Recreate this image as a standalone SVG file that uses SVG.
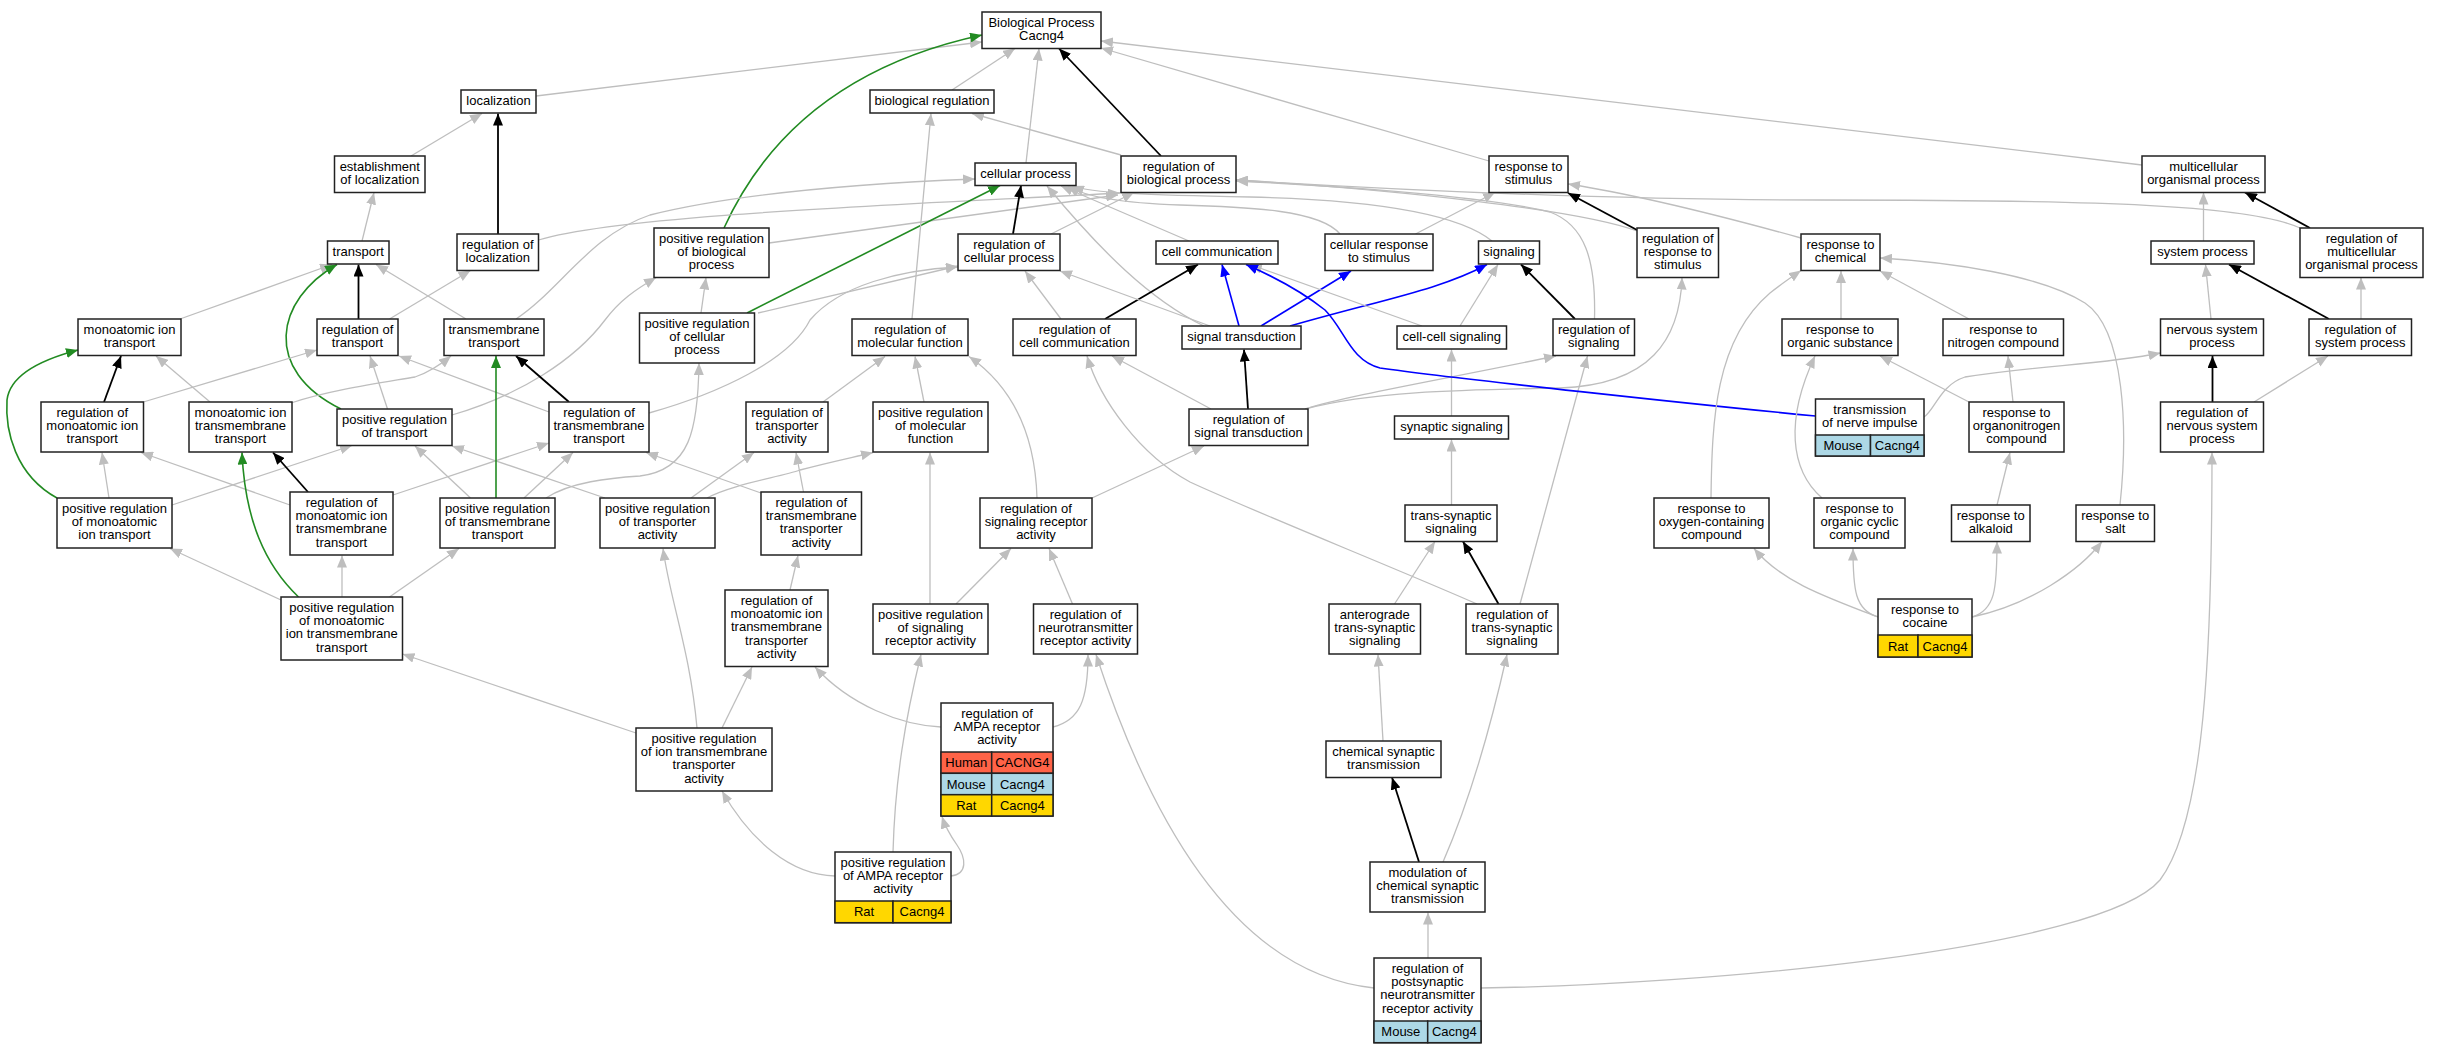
<svg xmlns="http://www.w3.org/2000/svg" width="2439" height="1053" viewBox="0 0 2439 1053">
<style>
.n rect{fill:#fff;stroke:#222;stroke-width:1.5}
.n text,.c text{font-family:"Liberation Sans",Arial,sans-serif;font-size:13px;text-anchor:middle;fill:#000}
.hu{fill:#ff6347!important}
.mo{fill:#add8e6!important}
.ra{fill:#ffd700!important}
.e path{fill:none}
.g{stroke:#bebebe;stroke-width:1.3}
.k{stroke:#000;stroke-width:1.8}
.gr{stroke:#228b22;stroke-width:1.6}
.b{stroke:#0000ff;stroke-width:1.6}
.g{marker-end:url(#ag)}
.k{marker-end:url(#ak)}
.gr{marker-end:url(#agr)}
.b{marker-end:url(#ab)}
</style>
<defs>
<marker id="ag" viewBox="0 0 12 10" refX="12" refY="5" markerWidth="12" markerHeight="10" markerUnits="userSpaceOnUse" orient="auto"><path d="M0,0L12,5L0,10z" fill="#bebebe"/></marker>
<marker id="ak" viewBox="0 0 12 10" refX="12" refY="5" markerWidth="12" markerHeight="10" markerUnits="userSpaceOnUse" orient="auto"><path d="M0,0L12,5L0,10z" fill="#000"/></marker>
<marker id="agr" viewBox="0 0 12 10" refX="12" refY="5" markerWidth="12" markerHeight="10" markerUnits="userSpaceOnUse" orient="auto"><path d="M0,0L12,5L0,10z" fill="#228b22"/></marker>
<marker id="ab" viewBox="0 0 12 10" refX="12" refY="5" markerWidth="12" markerHeight="10" markerUnits="userSpaceOnUse" orient="auto"><path d="M0,0L12,5L0,10z" fill="#0000ff"/></marker>
</defs>
<rect width="2439" height="1053" fill="#fff"/>
<g id="edges" class="e">
<path class="g" d="M536,96 L982,42"/>
<path class="gr" d="M724,228 C755,160 820,70 982,35"/>
<path class="g" d="M952,90 L1015,48.5"/>
<path class="g" d="M1026,163 L1039,48.5"/>
<path class="k" d="M1161,156 L1059,48.5"/>
<path class="g" d="M1489,161 L1101,48"/>
<path class="g" d="M2142,165 L1101,41"/>
<path class="g" d="M411,156 L482,113.5"/>
<path class="k" d="M498,234 L498,113.5"/>
<path class="g" d="M362,241 L374,192.5"/>
<path class="g" d="M180,319 L332,264.5"/>
<path class="k" d="M358.5,319 L358.5,264.5"/>
<path class="g" d="M466,319 L376,264.5"/>
<path class="gr" d="M341,409 C262,370 275,300 337,264.5"/>
<path class="g" d="M389.5,319 L470.5,270.5"/>
<path class="g" d="M538.5,240 C620,215 900,205 1120,193"/>
<path class="g" d="M769,243 L1118,195"/>
<path class="g" d="M1051,234 L1134,192.5"/>
<path class="g" d="M1637,231 C1580,210 1400,190 1236,180"/>
<path class="g" d="M1594.5,319 C1596,260 1585,225 1550,212 C1480,195 1320,185 1236,181"/>
<path class="g" d="M2300,228 C2250,205 2100,200 1820,200 C1600,200 1400,190 1236,180"/>
<path class="g" d="M516,319 C560,290 590,235 650,215 C750,190 900,182 975,179"/>
<path class="g" d="M1204,326 C1150,300 1100,250 1047,186"/>
<path class="g" d="M1189,241 L1061,186"/>
<path class="g" d="M1340,234 C1320,210 1250,207 1180,205 C1120,203 1085,197 1068,186"/>
<path class="g" d="M1492,241 C1460,215 1380,200 1250,197 C1150,195 1090,193 1072,186"/>
<path class="g" d="M701,313 L706,277.5"/>
<path class="g" d="M758,313 L958,266"/>
<path class="gr" d="M747,313 L1000,185.5"/>
<path class="k" d="M1013,234 L1021,185.5"/>
<path class="g" d="M649,413 C720,393 790,360 810,320 C840,285 900,270 958,267"/>
<path class="g" d="M452,415 C520,395 575,360 605,320 C620,300 635,290 656,277.5"/>
<path class="g" d="M546,498 C570,482 610,478 640,476 C690,470 698,430 699,363"/>
<path class="g" d="M912,319 L931,113.5"/>
<path class="g" d="M1121,155 L972,113.5"/>
<path class="g" d="M1061,319 L1025,271"/>
<path class="k" d="M1105,319 L1198,264.5"/>
<path class="g" d="M1210,326 L1060,271"/>
<path class="b" d="M1239,326 L1222,264.5"/>
<path class="b" d="M1261,326 L1351,271"/>
<path class="b" d="M1290,326 C1380,300 1440,290 1487,264.5"/>
<path class="g" d="M1422,326 L1250,264.5"/>
<path class="g" d="M1460,326 L1498,264.5"/>
<path class="k" d="M1575,319 L1521,264.5"/>
<path class="k" d="M1637,230 L1568,193"/>
<path class="g" d="M1415.5,234 L1495,192.5"/>
<path class="g" d="M1801,238 C1700,210 1620,192 1568,184"/>
<path class="k" d="M1248,409 L1244,349.5"/>
<path class="g" d="M1211,409 L1112,356"/>
<path class="g" d="M1305,409 C1350,395 1440,380 1556,356"/>
<path class="g" d="M1305,409 C1370,392 1450,390 1560,388 C1650,385 1680,340 1682,277.5"/>
<path class="g" d="M823,402 L885,356.5"/>
<path class="g" d="M924,402 L915,356.5"/>
<path class="g" d="M1037,498 C1035,430 1010,385 969,356.5"/>
<path class="g" d="M1092,498 L1204,446"/>
<path class="g" d="M1072.5,604 L1049,548.5"/>
<path class="g" d="M956,604 L1011,548.5"/>
<path class="g" d="M930,604 L930,452.5"/>
<path class="g" d="M803.5,492 L796,452.5"/>
<path class="g" d="M761,493 L646,452.5"/>
<path class="g" d="M691,498 L754,452.5"/>
<path class="g" d="M707,498 C730,485 780,477 800,470 C830,462 850,458 873,452.5"/>
<path class="g" d="M605,498 L452,446"/>
<path class="g" d="M790,590 L798,555.5"/>
<path class="g" d="M697,728 C690,650 670,600 663,548.5"/>
<path class="g" d="M722,728 L752,667"/>
<path class="g" d="M636,733 L402.5,654"/>
<path class="g" d="M941,727 C900,725 850,705 815,667"/>
<path class="g" d="M1053,727 C1080,720 1088,700 1088,654.5"/>
<path class="g" d="M835,876 C790,875 750,840 722,791"/>
<path class="g" d="M893,852 C895,780 905,720 921,654.5"/>
<path class="g" d="M951,876 C968,874 966,858 957,845 C950,835 945,826 942,816.5"/>
<path class="g" d="M1374,988 C1250,975 1160,850 1096,654.5"/>
<path class="g" d="M1428,958 L1428,912.5"/>
<path class="g" d="M1481,988 C1700,985 2100,950 2160,880 C2205,820 2212,650 2212,452.5"/>
<path class="k" d="M1419,862 L1392,777.5"/>
<path class="g" d="M1443,862 C1470,800 1490,730 1507,654.5"/>
<path class="g" d="M1383,741 L1378,654.5"/>
<path class="g" d="M1394.5,604 L1435,541.5"/>
<path class="k" d="M1498.5,604 L1463,541.5"/>
<path class="g" d="M1520,604 L1587.5,356"/>
<path class="g" d="M1477,604 C1400,570 1250,510 1190,482 C1140,455 1100,400 1087,356"/>
<path class="g" d="M1451.5,505 L1451.5,439.5"/>
<path class="g" d="M1451.5,416 L1451.5,349.5"/>
<path class="b" d="M1815.5,416 C1700,405 1450,378 1380,368 C1350,360 1345,330 1325,310 C1300,290 1270,275 1246,264.5"/>
<path class="g" d="M1924,417 C1935,410 1940,385 1965,377 C2040,365 2100,365 2160.5,353"/>
<path class="k" d="M2212.5,402 L2212.5,356"/>
<path class="g" d="M2254,402 L2328,356"/>
<path class="g" d="M2211,319 L2205.5,264.5"/>
<path class="k" d="M2329,319 L2229,264.5"/>
<path class="g" d="M2361,319 L2361,277.5"/>
<path class="g" d="M2203.5,241 L2203.5,192.5"/>
<path class="k" d="M2310,228 L2245,192.5"/>
<path class="g" d="M1841,319 L1841,271"/>
<path class="g" d="M1969,319 L1880,271"/>
<path class="g" d="M2120,505 C2128,430 2125,330 2085,303 C2040,275 1950,262 1880,258"/>
<path class="g" d="M1711,498 C1712,420 1715,340 1770,293 C1780,285 1790,278 1801,270.5"/>
<path class="g" d="M2013,402 L2008,356"/>
<path class="g" d="M1969,402 L1880,356"/>
<path class="g" d="M1997,505 L2010,452.5"/>
<path class="g" d="M1822,498 C1790,470 1785,420 1815,356"/>
<path class="g" d="M1878,617 C1820,595 1780,580 1754,548.5"/>
<path class="g" d="M1878,617 C1855,610 1853,590 1853,548.5"/>
<path class="g" d="M1972,617 C1995,610 1997,590 1997,541.5"/>
<path class="g" d="M1972,617 C2030,605 2080,570 2102,541.5"/>
<path class="k" d="M104,402 L121,356"/>
<path class="g" d="M140,403 L317,350"/>
<path class="g" d="M210,402 L156,356"/>
<path class="g" d="M291,403 C330,390 380,383 415,377 C430,372 440,365 451,356"/>
<path class="g" d="M387.5,409 L370,356"/>
<path class="k" d="M569,402 L516,356"/>
<path class="g" d="M549,412 L399,356"/>
<path class="g" d="M109,498 L102,452.5"/>
<path class="gr" d="M57,498 C15,475 5,430 7,400 C10,375 40,360 78,350"/>
<path class="g" d="M172,505 L352,445.5"/>
<path class="k" d="M308,492 L273,452.5"/>
<path class="g" d="M290,505 L141,452.5"/>
<path class="g" d="M393,495 L549,443"/>
<path class="gr" d="M496,498 L496,356"/>
<path class="g" d="M524,498 L573,452.5"/>
<path class="g" d="M470.5,498 L415,446"/>
<path class="g" d="M281,600 L170,548.5"/>
<path class="gr" d="M298.5,597 C265,565 245,520 242,452.5"/>
<path class="g" d="M342,597 L342,555.5"/>
<path class="g" d="M389.5,597 L459,548.5"/>
</g>
<g id="n_bp" class="n"><rect x="982" y="12" width="119" height="36.5"/><text x="1041.5" y="26.7">Biological Process</text><text x="1041.5" y="40">Cacng4</text></g>
<g id="n_loc" class="n"><rect x="461" y="90" width="75" height="23"/><text x="498.5" y="104.7">localization</text></g>
<g id="n_bioreg" class="n"><rect x="870" y="90" width="124" height="23"/><text x="932" y="104.7">biological regulation</text></g>
<g id="n_cp" class="n"><rect x="975" y="163" width="101" height="22.5"/><text x="1025.5" y="177.7">cellular process</text></g>
<g id="n_rbp" class="n"><rect x="1121" y="156" width="115" height="36.5"/><text x="1178.5" y="170.7">regulation of</text><text x="1178.5" y="184">biological process</text></g>
<g id="n_rs" class="n"><rect x="1489" y="156" width="79" height="36.5"/><text x="1528.5" y="170.7">response to</text><text x="1528.5" y="184">stimulus</text></g>
<g id="n_mop" class="n"><rect x="2142" y="156" width="123" height="36.5"/><text x="2203.5" y="170.7">multicellular</text><text x="2203.5" y="184">organismal process</text></g>
<g id="n_est" class="n"><rect x="334.5" y="156" width="90.5" height="36.5"/><text x="379.75" y="170.7">establishment</text><text x="379.75" y="184">of localization</text></g>
<g id="n_tr" class="n"><rect x="327.5" y="241" width="61.5" height="23"/><text x="358.25" y="255.7">transport</text></g>
<g id="n_rl" class="n"><rect x="457" y="234" width="81.5" height="36.5"/><text x="497.75" y="248.7">regulation of</text><text x="497.75" y="262">localization</text></g>
<g id="n_prbp" class="n"><rect x="654" y="228" width="115" height="49.5"/><text x="711.5" y="242.7">positive regulation</text><text x="711.5" y="256">of biological</text><text x="711.5" y="269.3">process</text></g>
<g id="n_rcp" class="n"><rect x="958" y="234" width="102" height="36.5"/><text x="1009" y="248.7">regulation of</text><text x="1009" y="262">cellular process</text></g>
<g id="n_cc" class="n"><rect x="1156" y="241" width="122" height="23"/><text x="1217" y="255.7">cell communication</text></g>
<g id="n_crs" class="n"><rect x="1325" y="234" width="108" height="36.5"/><text x="1379" y="248.7">cellular response</text><text x="1379" y="262">to stimulus</text></g>
<g id="n_sig" class="n"><rect x="1478.5" y="241" width="61" height="23"/><text x="1509" y="255.7">signaling</text></g>
<g id="n_rrs" class="n"><rect x="1637" y="228" width="81.5" height="49.5"/><text x="1677.75" y="242.7">regulation of</text><text x="1677.75" y="256">response to</text><text x="1677.75" y="269.3">stimulus</text></g>
<g id="n_rchem" class="n"><rect x="1801" y="234" width="79" height="36.5"/><text x="1840.5" y="248.7">response to</text><text x="1840.5" y="262">chemical</text></g>
<g id="n_sp" class="n"><rect x="2151" y="241" width="103" height="23"/><text x="2202.5" y="255.7">system process</text></g>
<g id="n_rmop" class="n"><rect x="2300" y="228" width="123" height="49.5"/><text x="2361.5" y="242.7">regulation of</text><text x="2361.5" y="256">multicellular</text><text x="2361.5" y="269.3">organismal process</text></g>
<g id="n_mit" class="n"><rect x="78" y="319" width="103" height="36.5"/><text x="129.5" y="333.7">monoatomic ion</text><text x="129.5" y="347">transport</text></g>
<g id="n_rt" class="n"><rect x="317" y="319" width="81" height="36.5"/><text x="357.5" y="333.7">regulation of</text><text x="357.5" y="347">transport</text></g>
<g id="n_tt" class="n"><rect x="444" y="319" width="100" height="36.5"/><text x="494" y="333.7">transmembrane</text><text x="494" y="347">transport</text></g>
<g id="n_prcp" class="n"><rect x="639.5" y="313" width="115" height="50"/><text x="697" y="327.7">positive regulation</text><text x="697" y="341">of cellular</text><text x="697" y="354.3">process</text></g>
<g id="n_rmf" class="n"><rect x="852" y="319" width="116" height="36.5"/><text x="910" y="333.7">regulation of</text><text x="910" y="347">molecular function</text></g>
<g id="n_rcc" class="n"><rect x="1013" y="319" width="123" height="36.5"/><text x="1074.5" y="333.7">regulation of</text><text x="1074.5" y="347">cell communication</text></g>
<g id="n_st" class="n"><rect x="1182" y="326" width="119" height="23"/><text x="1241.5" y="340.7">signal transduction</text></g>
<g id="n_ccs" class="n"><rect x="1397" y="326" width="109.5" height="23"/><text x="1451.75" y="340.7">cell-cell signaling</text></g>
<g id="n_rsig" class="n"><rect x="1553" y="319" width="81.5" height="36.5"/><text x="1593.75" y="333.7">regulation of</text><text x="1593.75" y="347">signaling</text></g>
<g id="n_ros" class="n"><rect x="1782" y="319" width="116" height="36.5"/><text x="1840" y="333.7">response to</text><text x="1840" y="347">organic substance</text></g>
<g id="n_rnc" class="n"><rect x="1943" y="319" width="120.5" height="36.5"/><text x="2003.25" y="333.7">response to</text><text x="2003.25" y="347">nitrogen compound</text></g>
<g id="n_nsp" class="n"><rect x="2160.5" y="319" width="103" height="36.5"/><text x="2212" y="333.7">nervous system</text><text x="2212" y="347">process</text></g>
<g id="n_rsp" class="n"><rect x="2309" y="319" width="102.5" height="36.5"/><text x="2360.25" y="333.7">regulation of</text><text x="2360.25" y="347">system process</text></g>
<g id="n_rmit" class="n"><rect x="41" y="402" width="102.5" height="50"/><text x="92.25" y="416.7">regulation of</text><text x="92.25" y="430">monoatomic ion</text><text x="92.25" y="443.3">transport</text></g>
<g id="n_mitt" class="n"><rect x="189" y="402" width="103" height="50"/><text x="240.5" y="416.7">monoatomic ion</text><text x="240.5" y="430">transmembrane</text><text x="240.5" y="443.3">transport</text></g>
<g id="n_prt" class="n"><rect x="337" y="409" width="115" height="36.5"/><text x="394.5" y="423.7">positive regulation</text><text x="394.5" y="437">of transport</text></g>
<g id="n_rtt" class="n"><rect x="549" y="402" width="100" height="50"/><text x="599" y="416.7">regulation of</text><text x="599" y="430">transmembrane</text><text x="599" y="443.3">transport</text></g>
<g id="n_rta" class="n"><rect x="746" y="402" width="82" height="50"/><text x="787" y="416.7">regulation of</text><text x="787" y="430">transporter</text><text x="787" y="443.3">activity</text></g>
<g id="n_prmf" class="n"><rect x="873" y="402" width="115" height="50"/><text x="930.5" y="416.7">positive regulation</text><text x="930.5" y="430">of molecular</text><text x="930.5" y="443.3">function</text></g>
<g id="n_rst" class="n"><rect x="1189" y="409" width="119" height="36.5"/><text x="1248.5" y="423.7">regulation of</text><text x="1248.5" y="437">signal transduction</text></g>
<g id="n_ss" class="n"><rect x="1394.5" y="416" width="114" height="23"/><text x="1451.5" y="430.7">synaptic signaling</text></g>
<g id="n_tni" class="n"><rect x="1815.5" y="399" width="108.5" height="57"/><text x="1869.75" y="413.7">transmission</text><text x="1869.75" y="427">of nerve impulse</text><rect class="mo" x="1815.5" y="435" width="55" height="21"/><rect class="mo" x="1870.5" y="435" width="53.5" height="21"/><text x="1843" y="449.5">Mouse</text><text x="1897.25" y="449.5">Cacng4</text></g>
<g id="n_ronc" class="n"><rect x="1969" y="402" width="95" height="50"/><text x="2016.5" y="416.7">response to</text><text x="2016.5" y="430">organonitrogen</text><text x="2016.5" y="443.3">compound</text></g>
<g id="n_rnsp" class="n"><rect x="2160.5" y="402" width="103" height="50"/><text x="2212" y="416.7">regulation of</text><text x="2212" y="430">nervous system</text><text x="2212" y="443.3">process</text></g>
<g id="n_prmit" class="n"><rect x="57" y="498" width="115" height="50"/><text x="114.5" y="512.7">positive regulation</text><text x="114.5" y="526">of monoatomic</text><text x="114.5" y="539.3">ion transport</text></g>
<g id="n_rmitt" class="n"><rect x="290" y="492" width="103" height="63"/><text x="341.5" y="506.7">regulation of</text><text x="341.5" y="520">monoatomic ion</text><text x="341.5" y="533.3">transmembrane</text><text x="341.5" y="546.7">transport</text></g>
<g id="n_prtt" class="n"><rect x="440" y="498" width="115" height="50"/><text x="497.5" y="512.7">positive regulation</text><text x="497.5" y="526">of transmembrane</text><text x="497.5" y="539.3">transport</text></g>
<g id="n_prta" class="n"><rect x="600" y="498" width="115" height="50"/><text x="657.5" y="512.7">positive regulation</text><text x="657.5" y="526">of transporter</text><text x="657.5" y="539.3">activity</text></g>
<g id="n_rtta" class="n"><rect x="761" y="492" width="100.5" height="63"/><text x="811.25" y="506.7">regulation of</text><text x="811.25" y="520">transmembrane</text><text x="811.25" y="533.3">transporter</text><text x="811.25" y="546.7">activity</text></g>
<g id="n_rsra" class="n"><rect x="980" y="498" width="112" height="50"/><text x="1036" y="512.7">regulation of</text><text x="1036" y="526">signaling receptor</text><text x="1036" y="539.3">activity</text></g>
<g id="n_tss" class="n"><rect x="1405" y="505" width="92" height="36.5"/><text x="1451" y="519.7">trans-synaptic</text><text x="1451" y="533">signaling</text></g>
<g id="n_roxc" class="n"><rect x="1654" y="498" width="115" height="50"/><text x="1711.5" y="512.7">response to</text><text x="1711.5" y="526">oxygen-containing</text><text x="1711.5" y="539.3">compound</text></g>
<g id="n_rocc" class="n"><rect x="1814" y="498" width="91" height="50"/><text x="1859.5" y="512.7">response to</text><text x="1859.5" y="526">organic cyclic</text><text x="1859.5" y="539.3">compound</text></g>
<g id="n_ra" class="n"><rect x="1951.5" y="505" width="78.5" height="36.5"/><text x="1990.75" y="519.7">response to</text><text x="1990.75" y="533">alkaloid</text></g>
<g id="n_rsalt" class="n"><rect x="2076" y="505" width="78.5" height="36.5"/><text x="2115.25" y="519.7">response to</text><text x="2115.25" y="533">salt</text></g>
<g id="n_prmitt" class="n"><rect x="281" y="597" width="121.5" height="63"/><text x="341.75" y="611.7">positive regulation</text><text x="341.75" y="625">of monoatomic</text><text x="341.75" y="638.3">ion transmembrane</text><text x="341.75" y="651.7">transport</text></g>
<g id="n_rmitta" class="n"><rect x="725" y="590" width="103" height="76.5"/><text x="776.5" y="604.7">regulation of</text><text x="776.5" y="618">monoatomic ion</text><text x="776.5" y="631.3">transmembrane</text><text x="776.5" y="644.7">transporter</text><text x="776.5" y="658">activity</text></g>
<g id="n_prsra" class="n"><rect x="873" y="604" width="115" height="50"/><text x="930.5" y="618.7">positive regulation</text><text x="930.5" y="632">of signaling</text><text x="930.5" y="645.3">receptor activity</text></g>
<g id="n_rnra" class="n"><rect x="1033.5" y="604" width="104" height="50"/><text x="1085.5" y="618.7">regulation of</text><text x="1085.5" y="632">neurotransmitter</text><text x="1085.5" y="645.3">receptor activity</text></g>
<g id="n_atss" class="n"><rect x="1329" y="604" width="91.5" height="50"/><text x="1374.75" y="618.7">anterograde</text><text x="1374.75" y="632">trans-synaptic</text><text x="1374.75" y="645.3">signaling</text></g>
<g id="n_rtss" class="n"><rect x="1466" y="604" width="92" height="50"/><text x="1512" y="618.7">regulation of</text><text x="1512" y="632">trans-synaptic</text><text x="1512" y="645.3">signaling</text></g>
<g id="n_rc" class="n"><rect x="1878" y="599" width="94" height="58"/><text x="1925" y="613.7">response to</text><text x="1925" y="627">cocaine</text><rect class="ra" x="1878" y="635" width="40" height="22"/><rect class="ra" x="1918" y="635" width="54" height="22"/><text x="1898" y="650.5">Rat</text><text x="1945" y="650.5">Cacng4</text></g>
<g id="n_pritta" class="n"><rect x="636" y="728" width="136" height="63"/><text x="704" y="742.7">positive regulation</text><text x="704" y="756">of ion transmembrane</text><text x="704" y="769.3">transporter</text><text x="704" y="782.7">activity</text></g>
<g id="n_rampa" class="n"><rect x="941" y="703" width="112" height="113"/><text x="997" y="717.7">regulation of</text><text x="997" y="731">AMPA receptor</text><text x="997" y="744.3">activity</text><rect class="hu" x="941" y="752" width="50.7" height="21.3"/><rect class="hu" x="991.7" y="752" width="61.3" height="21.3"/><rect class="mo" x="941" y="773.3" width="50.7" height="21.4"/><rect class="mo" x="991.7" y="773.3" width="61.3" height="21.4"/><rect class="ra" x="941" y="794.7" width="50.7" height="21.3"/><rect class="ra" x="991.7" y="794.7" width="61.3" height="21.3"/><text x="966.3" y="767.2">Human</text><text x="1022.3" y="767.2">CACNG4</text><text x="966.3" y="788.5">Mouse</text><text x="1022.3" y="788.5">Cacng4</text><text x="966.3" y="809.8">Rat</text><text x="1022.3" y="809.8">Cacng4</text></g>
<g id="n_cst" class="n"><rect x="1326" y="741" width="115" height="36.5"/><text x="1383.5" y="755.7">chemical synaptic</text><text x="1383.5" y="769">transmission</text></g>
<g id="n_prampa" class="n"><rect x="835" y="852" width="116" height="70.7"/><text x="893" y="866.7">positive regulation</text><text x="893" y="880">of AMPA receptor</text><text x="893" y="893.3">activity</text><rect class="ra" x="835" y="901" width="58" height="21.7"/><rect class="ra" x="893" y="901" width="58" height="21.7"/><text x="864" y="916.3">Rat</text><text x="922" y="916.3">Cacng4</text></g>
<g id="n_mcst" class="n"><rect x="1370" y="862" width="115" height="50"/><text x="1427.5" y="876.7">modulation of</text><text x="1427.5" y="890">chemical synaptic</text><text x="1427.5" y="903.3">transmission</text></g>
<g id="n_rpnra" class="n"><rect x="1374" y="958" width="107" height="84.7"/><text x="1427.5" y="972.7">regulation of</text><text x="1427.5" y="986">postsynaptic</text><text x="1427.5" y="999.3">neurotransmitter</text><text x="1427.5" y="1012.7">receptor activity</text><rect class="mo" x="1374" y="1021" width="53.7" height="21.7"/><rect class="mo" x="1427.7" y="1021" width="53.3" height="21.7"/><text x="1400.85" y="1036.3">Mouse</text><text x="1454.35" y="1036.3">Cacng4</text></g>
</svg>
